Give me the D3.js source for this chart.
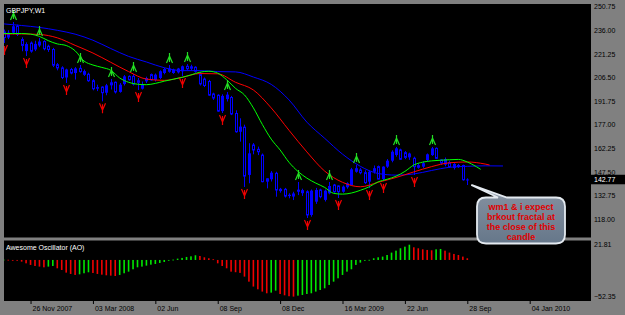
<!DOCTYPE html>
<html><head><meta charset="utf-8">
<script src="https://cdn.jsdelivr.net/npm/d3@7"></script>
<style>
html,body{margin:0;padding:0;background:#808080;overflow:hidden;}
svg{display:block;}
text{font-family:"Liberation Sans",Arial,sans-serif;}
</style></head><body>
<svg id="c" width="625" height="315"></svg>
<script>
// ---------------- DATA ----------------
const symbolTitle = "GBPJPY,W1";
const oscTitle = "Awesome Oscillator (AO)";
const openP = [235.0,231.5,234.5,238.5,230.2,223.0,228.0,224.0,226.5,229.0,
226.0,224.0,214.5,212.5,206.5,211.5,209.3,212.2,210.2,208.5,
204.5,199.5,200.5,197.0,201.6,203.5,197.5,202.4,207.2,207.2,
204.5,199.5,204.1,208.3,205.0,206.2,209.3,211.8,209.3,211.8,
210.4,213.5,212.0,212.9,208.3,205.5,204.0,196.2,195.4,185.5,
193.0,194.0,184.0,172.6,175.4,145.6,164.3,161.6,158.0,141.4,
142.9,146.6,136.6,136.6,132.4,133.7,135.1,135.8,135.1,120.6,
128.9,136.2,130.0,134.1,139.3,138.7,135.1,137.9,139.3,147.6,
148.7,147.0,141.4,147.6,150.8,143.0,150.8,154.5,158.1,161.2,
159.5,156.6,156.0,151.4,150.8,154.9,158.0,162.2,155.0,152.0,
153.3,150.0,151.5,151.5,142.4];
const highP = [236.5,236.0,241.2,239.5,231.6,228.5,229.0,229.5,231.2,229.8,
227.0,225.0,215.5,213.5,212.0,212.5,213.0,214.3,211.5,209.5,
205.5,202.0,201.0,202.5,205.6,204.0,203.0,208.0,207.8,208.7,
206.2,204.0,207.0,209.0,209.0,211.0,212.5,214.3,212.0,212.5,
214.0,214.9,214.5,213.5,210.0,206.5,205.0,197.0,196.0,196.0,
197.4,195.0,186.0,181.0,177.0,165.4,165.5,163.3,159.0,143.5,
148.0,147.6,137.5,137.5,134.1,135.1,141.2,137.0,136.0,136.5,
137.5,137.0,136.5,141.2,140.0,139.0,139.0,141.0,150.0,151.8,
150.0,148.5,148.5,151.5,151.5,151.0,155.5,161.0,163.1,162.0,
160.5,159.5,157.0,153.0,154.0,159.0,163.1,162.8,155.5,156.5,
154.5,153.0,152.5,152.0,143.5];
const lowP = [228.1,230.5,233.5,232.5,222.9,219.9,222.0,223.0,225.5,223.5,
222.5,213.0,211.0,205.5,203.1,208.5,205.2,209.5,207.5,203.8,
198.5,198.0,191.6,195.4,199.0,196.5,197.0,201.5,204.5,201.5,
198.7,199.0,203.0,204.5,204.0,205.5,208.5,209.5,208.8,209.0,
207.4,211.0,211.0,209.5,201.5,200.5,195.0,192.5,185.0,184.3,
191.5,183.0,172.0,166.4,138.1,140.4,158.5,158.0,141.0,137.2,
141.5,132.0,134.5,131.5,131.0,129.9,133.0,132.5,118.7,119.5,
127.5,131.0,129.0,133.5,134.5,131.2,134.5,137.0,139.0,147.0,
146.0,140.0,137.4,146.5,142.8,141.8,150.0,153.5,157.0,155.0,
155.5,155.0,145.6,149.5,150.0,154.0,157.5,155.5,152.0,151.0,
150.0,149.0,150.0,142.0,139.3];
const closeP = [231.5,234.5,238.5,233.5,226.6,227.4,223.0,227.5,229.0,224.5,
224.0,214.2,212.5,206.5,211.5,209.3,212.2,210.2,208.5,204.5,
199.5,200.5,197.0,201.6,203.5,197.5,202.0,207.2,205.1,202.4,
203.5,202.4,206.2,205.0,208.3,210.4,211.8,210.4,211.4,210.0,
213.5,212.0,213.5,210.4,202.5,201.5,195.5,193.7,185.5,195.0,
195.8,183.7,172.6,175.8,144.9,159.1,161.2,160.1,141.4,143.5,
147.0,136.2,135.8,132.4,133.2,132.4,136.4,134.5,120.6,135.8,
136.2,132.0,135.8,138.7,135.1,135.1,138.3,140.4,149.1,149.8,
147.0,140.8,147.6,149.8,143.0,150.8,154.5,160.1,162.2,155.4,
156.6,159.0,150.8,150.4,152.9,158.5,162.2,156.0,153.0,155.5,
150.8,152.5,150.8,142.6,142.77];
const lastPrice = 142.77;

// Alligator lines (bar index incl. forward shift, value)
const jawIdx = [0,4,8,12,16,20,24,28,32,36,40,44,48,52,56,60,64,68,72,76,80,84,88,92,96,100,104,108,112];
const jawVal = [240.0,239.0,237.8,236.0,233.6,229.8,224.6,219.7,216.2,212.6,210.8,210.8,210.2,210.0,206.8,202.2,192.5,178.6,168.5,158.6,151.0,146.5,145.5,146.2,148.4,150.4,151.0,151.3,151.2];
const teethIdx = [0,4,8,12,16,20,24,28,32,36,40,44,48,52,56,60,64,68,72,76,80,84,88,92,96,100,104,108,109];
const teethVal = [233.7,233.7,233.4,231.3,226.6,221.8,216.0,210.2,205.5,204.7,206.6,209.0,208.8,203.5,198.7,187.5,173.5,160.0,148.0,141.0,138.2,141.0,144.0,147.5,150.8,153.2,153.7,152.4,151.8];
const lipsIdx = [0,2,4,6,8,10,12,14,16,18,20,22,24,26,28,30,32,34,36,38,40,42,44,46,48,50,52,54,56,58,60,62,64,66,68,70,72,74,76,78,80,82,84,86,88,90,92,94,96,98,100,102,104,106,107];
const lipsVal = [234.0,234.0,234.0,233.6,232.2,229.5,227.5,226.5,223.2,216.8,214.3,212.8,211.0,206.2,203.5,202.3,202.0,202.8,204.2,205.4,206.6,208.1,209.8,210.4,209.2,205.1,199.7,195.6,187.5,177.2,168.0,161.2,153.5,147.8,143.6,140.5,137.8,134.1,133.6,134.3,136.0,138.2,141.3,142.9,144.8,147.8,151.8,153.6,154.4,154.8,155.1,155.3,153.7,150.8,149.1];

// Fractals (bar indices)
const fractalUp = [2,8,17,24,29,37,41,50,66,73,79,88,96];
const fractalDown = [0,5,14,22,30,40,49,54,68,75,82,85,92];

// Awesome Oscillator
const aoVal = [0.5,0.3,-0.2,-1.0,-2.4,-4.8,-7.1,-8.6,-9.5,-10.5,
-9.5,-8.6,-11.9,-14.3,-18.1,-20.0,-21.4,-20.5,-19.0,-17.6,
-18.6,-20.0,-21.0,-21.9,-22.4,-22.9,-21.4,-19.0,-16.7,-13.3,
-10.5,-9.5,-8.1,-6.7,-5.7,-4.3,-2.9,-1.0,0.5,1.9,
2.9,4.3,5.2,6.7,5.7,3.8,2.4,1.0,-4.8,-8.6,
-11.9,-16.7,-17.5,-18.5,-23.8,-31.0,-38.0,-41.9,-45.2,-47.6,
-46.7,-43.8,-48.6,-50.5,-51.8,-52.35,-51.0,-50.0,-48.6,-47.6,
-45.2,-42.9,-40.5,-35.7,-31.0,-26.2,-21.4,-16.7,-13.3,-7.1,
-3.8,-1.0,0.2,2.4,3.8,4.8,7.1,10.5,13.3,16.7,
19.0,21.81,18.1,16.7,15.2,14.3,13.8,15.2,15.7,13.3,
10.5,8.6,7.1,4.8,2.4];
const aoMax = 21.81, aoMin = -52.35;

// Axes
const priceTicks = [250.75,236.00,221.25,206.50,191.75,177.00,162.25,147.50,132.75,118.00];
const dateIdx = [6,20,34,48,62,76,90,104,118];
const dateLabels = ["26 Nov 2007","03 Mar 2008","02 Jun","08 Sep","08 Dec","16 Mar 2009","22 Jun","28 Sep","04 Jan 2010"];

const noteLines = ["wm1 & i expect","brkout fractal at","the close of this","candle"];

// ---------------- LAYOUT ----------------
const svg = d3.select("#c");
const P = {l:4, r:591, t:4, b:237.5};
const A = {t:240.5, b:301};
const x = d3.scaleLinear().domain([0,104]).range([3.8,467.3]);
const y = d3.scaleLinear().domain([118,250.75]).range([219.1,6.7]);
const ya = d3.scaleLinear().domain([aoMin,aoMax]).range([296.6,244.7]);

const defs = svg.append("defs");
defs.append("clipPath").attr("id","cm").append("rect")
  .attr("x",P.l).attr("y",P.t).attr("width",P.r-P.l).attr("height",P.b-P.t);
defs.append("clipPath").attr("id","ca").append("rect")
  .attr("x",P.l).attr("y",A.t).attr("width",P.r-P.l).attr("height",A.b-A.t);
const grad = defs.append("linearGradient").attr("id","bub").attr("x1",0).attr("y1",0).attr("x2",0).attr("y2",1);
grad.append("stop").attr("offset","0%").attr("stop-color","#b4bfcc");
grad.append("stop").attr("offset","25%").attr("stop-color","#7f8c9c");
grad.append("stop").attr("offset","100%").attr("stop-color","#66778a");

// panels
svg.append("rect").attr("x",P.l).attr("y",P.t).attr("width",P.r-P.l).attr("height",P.b-P.t).attr("fill","#000");
svg.append("rect").attr("x",P.l).attr("y",A.t).attr("width",P.r-P.l).attr("height",A.b-A.t).attr("fill","#000");

const gm = svg.append("g").attr("clip-path","url(#cm)");
const bars = d3.range(openP.length).map(i=>({i,o:openP[i],h:highP[i],l:lowP[i],c:closeP[i]}));
const cx = i => Math.round(x(i))+0.5;

// candles
gm.selectAll("line.w").data(bars).join("line").attr("class","w")
  .attr("x1",d=>cx(d.i)).attr("x2",d=>cx(d.i))
  .attr("y1",d=>y(d.h)).attr("y2",d=>y(d.l))
  .attr("stroke","#0000ff").attr("stroke-width",1);
gm.selectAll("rect.b").data(bars).join("rect").attr("class","b")
  .attr("x",d=>d.c>d.o? cx(d.i)-1.5 : cx(d.i)-1)
  .attr("width",d=>d.c>d.o?3:2)
  .attr("y",d=>y(Math.max(d.o,d.c)))
  .attr("height",d=>Math.max(1,Math.abs(y(d.o)-y(d.c))))
  .attr("fill",d=>d.c>d.o?"#0000ff":"#000")
  .attr("stroke",d=>d.c>d.o?"none":"#0000ff").attr("stroke-width",1);

// alligator
const line = d3.line().x(d=>x(d[0])).y(d=>y(d[1])).curve(d3.curveMonotoneX);
[[jawIdx,jawVal,"#0000ff"],[teethIdx,teethVal,"#ff0000"],[lipsIdx,lipsVal,"#00ff00"]].forEach(([ix,vv,col])=>{
  gm.append("path").datum(ix.map((k,j)=>[k,vv[j]])).attr("d",line)
    .attr("fill","none").attr("stroke",col).attr("stroke-width",1);
});

// fractals
const upG = "M0,-10 L0,-1 M0,-7 L-3,0 M0,-7 L3,0";
const dnG = "M0,10 L0,1 M0,7 L-3,0 M0,7 L3,0";
gm.selectAll("path.fu").data(fractalUp).join("path").attr("class","fu")
  .attr("transform",i=>`translate(${cx(i)},${y(highP[i])-2})`)
  .attr("d",upG).attr("fill","none").attr("stroke","#22dd22").attr("stroke-width",1.2);
gm.selectAll("path.fd").data(fractalDown).join("path").attr("class","fd")
  .attr("transform",i=>`translate(${cx(i)},${y(lowP[i])+2})`)
  .attr("d",dnG).attr("fill","none").attr("stroke","#ee0000").attr("stroke-width",1.2);

// title
svg.append("text").attr("x",6).attr("y",12.5).attr("fill","#fff").attr("font-size",7).text(symbolTitle);

// price axis
const ax = svg.append("g").attr("transform","translate(594,0)")
  .call(d3.axisRight(y).tickValues(priceTicks).tickSize(0).tickPadding(0).tickFormat(d3.format(".2f")));
ax.select(".domain").remove();
ax.selectAll("text").attr("fill","#000").attr("font-size",7).attr("font-family","Liberation Sans, Arial, sans-serif");

// last price box
svg.append("rect").attr("x",590).attr("y",y(lastPrice)-4.7).attr("width",35).attr("height",9.5).attr("fill","#000");
svg.append("text").attr("x",594).attr("y",y(lastPrice)+2.4).attr("fill","#fff").attr("font-size",7).text(lastPrice.toFixed(2));

// AO panel
const ga = svg.append("g").attr("clip-path","url(#ca)");
ga.selectAll("rect").data(aoVal.map((v,i)=>({i,v}))).join("rect")
  .attr("x",d=>x(d.i)-0.8).attr("width",1.6)
  .attr("y",d=>Math.min(ya(0),ya(d.v))).attr("height",d=>Math.max(0.8,Math.abs(ya(d.v)-ya(0))))
  .attr("fill",d=>(d.i===0||d.v>=aoVal[d.i-1])?"#00e600":"#f00000");
svg.append("text").attr("x",6).attr("y",249.5).attr("fill","#fff").attr("font-size",7).text(oscTitle);
const aax = svg.append("g").attr("transform","translate(594,0)")
  .call(d3.axisRight(ya).tickValues([aoMax,aoMin]).tickSize(0).tickPadding(0).tickFormat(d3.format(".2f")));
aax.select(".domain").remove();
aax.selectAll("text").attr("fill","#000").attr("font-size",7).attr("font-family","Liberation Sans, Arial, sans-serif");

// time axis
const tx = svg.append("g").attr("transform",`translate(0,${A.b})`)
  .call(d3.axisBottom(x).tickValues(dateIdx).tickSize(3).tickPadding(2.5).tickFormat((d,i)=>dateLabels[i]));
tx.select(".domain").remove();
tx.selectAll("line").attr("stroke","#000");
tx.selectAll("text").attr("fill","#000").attr("font-size",7).attr("text-anchor","start").attr("dx",1.5)
  .attr("font-family","Liberation Sans, Arial, sans-serif");

// callout
const B = {x0:477,x1:565,y0:197.5,y1:243.5,r:9};
const tip = [x(104)+4, y(lastPrice)+5.5];
const bp = `M${B.x0+B.r},${B.y0} L498,${B.y0} L${tip[0]},${tip[1]} L507,${B.y0} L${B.x1-B.r},${B.y0} Q${B.x1},${B.y0} ${B.x1},${B.y0+B.r} L${B.x1},${B.y1-B.r} Q${B.x1},${B.y1} ${B.x1-B.r},${B.y1} L${B.x0+B.r},${B.y1} Q${B.x0},${B.y1} ${B.x0},${B.y1-B.r} L${B.x0},${B.y0+B.r} Q${B.x0},${B.y0} ${B.x0+B.r},${B.y0} Z`;
svg.append("path").attr("d",bp).attr("fill","url(#bub)").attr("stroke","#e4eaf0").attr("stroke-width",1.8);
svg.selectAll("text.note").data(noteLines).join("text").attr("class","note")
  .attr("x",521).attr("y",(d,i)=>209.5+i*10).attr("text-anchor","middle")
  .attr("fill","#e00000").attr("font-weight","bold").attr("font-size",9).text(d=>d);
</script>
</body></html>
